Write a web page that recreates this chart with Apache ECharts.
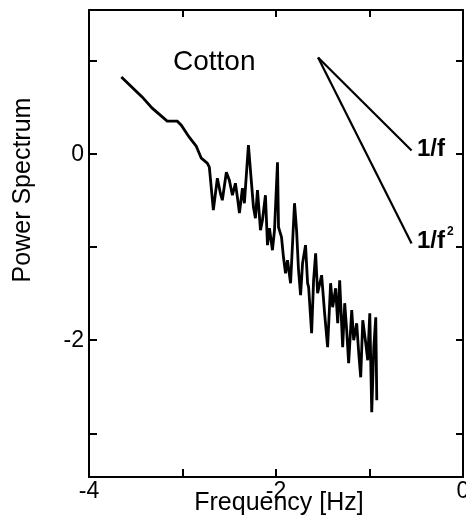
<!DOCTYPE html>
<html>
<head>
<meta charset="utf-8">
<script src="https://cdn.jsdelivr.net/npm/echarts@6/dist/echarts.min.js"></script>
<style>html,body{margin:0;padding:0;background:#fff}#c{width:466px;height:528px}</style>
</head>
<body>
<div id="c"></div>
<script>
// Spectrum (log10 frequency vs log10 power)
var logFreq = [-3.654,-3.432,-3.324,-3.164,-3.056,-3.013,-2.928,-2.853,-2.799,-2.735,-2.713,-2.670,-2.627,-2.595,-2.574,-2.531,-2.499,-2.466,-2.434,-2.413,-2.391,-2.359,-2.338,-2.295,-2.263,-2.241,-2.220,-2.198,-2.166,-2.145,-2.113,-2.091,-2.070,-2.038,-2.016,-1.984,-1.973,-1.941,-1.920,-1.898,-1.877,-1.844,-1.823,-1.802,-1.780,-1.759,-1.737,-1.716,-1.684,-1.662,-1.651,-1.619,-1.598,-1.576,-1.555,-1.512,-1.480,-1.448,-1.416,-1.394,-1.362,-1.340,-1.319,-1.287,-1.265,-1.244,-1.223,-1.190,-1.169,-1.137,-1.115,-1.094,-1.072,-1.040,-1.019,-0.997,-0.976,-0.954,-0.933,-0.922];
var logPower = [0.831,0.616,0.495,0.355,0.355,0.312,0.183,0.086,-0.043,-0.097,-0.140,-0.602,-0.258,-0.419,-0.495,-0.194,-0.280,-0.441,-0.312,-0.462,-0.634,-0.366,-0.527,0.097,-0.301,-0.570,-0.688,-0.387,-0.817,-0.710,-0.441,-0.978,-0.796,-1.032,-0.817,-0.086,-0.785,-0.892,-1.108,-1.280,-1.140,-1.387,-0.957,-0.527,-0.817,-1.247,-1.516,-1.172,-0.978,-1.387,-1.430,-1.925,-1.355,-1.065,-1.495,-1.301,-1.710,-2.075,-1.387,-1.645,-1.441,-1.817,-1.355,-2.075,-1.602,-1.892,-2.247,-1.677,-2.000,-1.817,-2.140,-2.398,-1.785,-2.032,-2.215,-1.710,-2.774,-2.075,-1.753,-2.645];
// reference slopes
var refX = [-1.55, -0.55];
var refOneOverF = [1.04, 0.04];
var refOneOverF2 = [1.04, -0.96];
var xTickLabels = [-4, -2, 0];
var yTickLabels = [-2, 0];
var xTicks = [-3, -2, -1];
var yTicks = [-3, -2, -1, 0, 1];

var FONT = '"Liberation Sans", Arial, sans-serif';
var chart = echarts.init(document.getElementById('c'), null, {renderer: 'canvas'});
function pairs(xs, ys) { return xs.map(function (x, i) { return [x, ys[i]]; }); }
var axLine = {show: true, onZero: false, lineStyle: {color: '#000', width: 2}};
var option = {
  animation: false,
  backgroundColor: '#fff',
  grid: {left: 89, right: 3, top: 10, bottom: 51, containLabel: false, outerBoundsMode: 'none'},
  xAxis: [{
    type: 'value', min: -4, max: 0, position: 'bottom',
    axisLine: axLine,
    axisTick: {show: true, inside: true, length: 8, lineStyle: {color: '#000', width: 2}, customValues: xTicks},
    axisLabel: {show: true, customValues: xTickLabels, margin: 3, color: '#000', fontSize: 23, fontFamily: FONT, hideOverlap: false},
    splitLine: {show: false}
  }, {
    type: 'value', min: -4, max: 0, position: 'top',
    axisLine: axLine,
    axisTick: {show: true, inside: true, length: 7, lineStyle: {color: '#000', width: 2}, customValues: xTicks},
    axisLabel: {show: false},
    splitLine: {show: false}
  }],
  yAxis: [{
    type: 'value', min: -3.47, max: 1.55, position: 'left',
    axisLine: axLine,
    axisTick: {show: true, inside: true, length: 8, lineStyle: {color: '#000', width: 2}, customValues: yTicks},
    axisLabel: {show: true, customValues: yTickLabels, margin: 5, color: '#000', fontSize: 23, fontFamily: FONT},
    splitLine: {show: false}
  }, {
    type: 'value', min: -3.47, max: 1.55, position: 'right',
    axisLine: axLine,
    axisTick: {show: true, inside: true, length: 7, lineStyle: {color: '#000', width: 2}, customValues: yTicks},
    axisLabel: {show: false},
    splitLine: {show: false}
  }],
  series: [{
    type: 'line', xAxisIndex: 0, yAxisIndex: 0,
    data: pairs(logFreq, logPower), showSymbol: false, symbol: 'none',
    lineStyle: {color: '#000', width: 2.8, join: 'miter', miterLimit: 3}, z: 3
  }, {
    type: 'line', xAxisIndex: 0, yAxisIndex: 0,
    data: pairs(refX, refOneOverF), showSymbol: false, symbol: 'none',
    lineStyle: {color: '#000', width: 2.2}
  }, {
    type: 'line', xAxisIndex: 0, yAxisIndex: 0,
    data: pairs(refX, refOneOverF2), showSymbol: false, symbol: 'none',
    lineStyle: {color: '#000', width: 2.2}
  }],
  graphic: [
    {type: 'text', x: 279, y: 503, style: {text: 'Frequency [Hz]', font: '25px ' + FONT, fill: '#000', align: 'center', verticalAlign: 'middle'}},
    {type: 'text', x: 23, y: 190, rotation: Math.PI / 2, style: {text: 'Power Spectrum', font: '25px ' + FONT, fill: '#000', align: 'center', verticalAlign: 'middle'}},
    {type: 'text', x: 173, y: 62, style: {text: 'Cotton', font: '28px ' + FONT, fill: '#000', align: 'left', verticalAlign: 'middle'}},
    {type: 'text', x: 417, y: 149, style: {text: '1/f', font: 'bold 24px ' + FONT, fill: '#000', align: 'left', verticalAlign: 'middle'}},
    {type: 'text', x: 417, y: 241, style: {text: '1/f', font: 'bold 24px ' + FONT, fill: '#000', align: 'left', verticalAlign: 'middle'}},
    {type: 'text', x: 447, y: 232, style: {text: '2', font: 'bold 12px ' + FONT, fill: '#000', align: 'left', verticalAlign: 'middle'}}
  ]
};
chart.setOption(option);
</script>
</body>
</html>
